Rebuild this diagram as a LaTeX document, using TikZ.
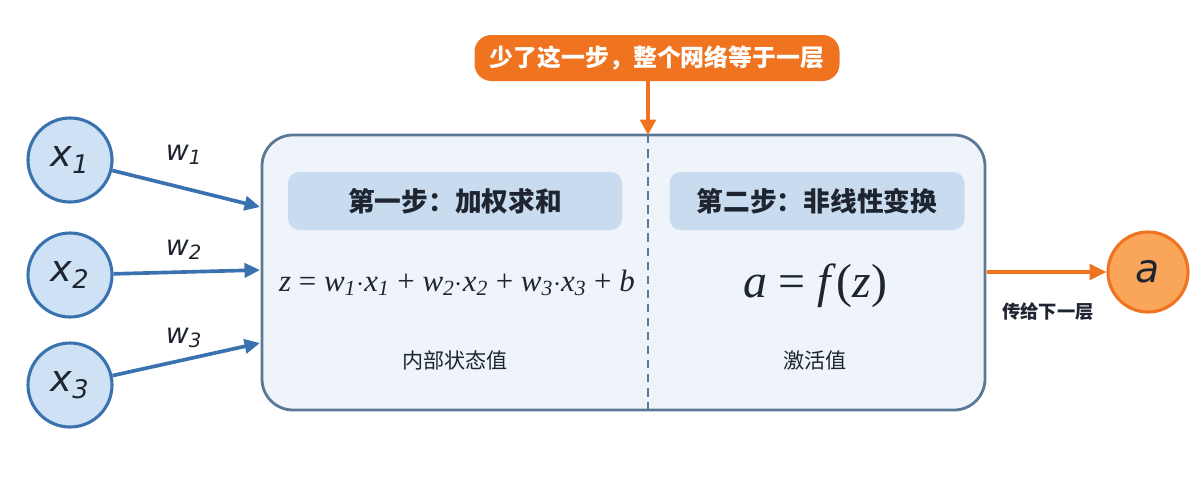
\documentclass[tikz,border=0pt]{standalone}
\usepackage{fontspec}
\setmainfont{Liberation Serif}
\newfontfamily\cjk{Noto Sans CJK SC}
\newfontfamily\sfx{DejaVu Sans}
\usetikzlibrary{arrows.meta}
\definecolor{cblue}{HTML}{3A72B0}
\definecolor{cfill}{HTML}{CFE2F5}
\definecolor{boxfill}{HTML}{EEF4FA}
\definecolor{boxline}{HTML}{5B7896}
\definecolor{hdr}{HTML}{C9DCEF}
\definecolor{corange}{HTML}{F0731F}
\definecolor{afill}{HTML}{F9A65A}
\definecolor{txt}{HTML}{1E2530}
\newcommand{\vx}[1]{\textit{#1}}
\begin{document}
\begin{tikzpicture}[x=0.025cm,y=-0.025cm,
  inp/.style={circle,draw=cblue,fill=cfill,line width=2.2pt,minimum size=84*0.025cm,inner sep=0pt,text=txt,font=\sfx\itshape\fontsize{26}{28}\selectfont},
  warr/.style={-{Triangle[length=11pt,width=10pt]},cblue,line width=2.6pt},
  wlab/.style={font=\sfx\itshape\fontsize{20}{22}\selectfont,text=txt},
  hdrbox/.style={fill=hdr,rounded corners=8pt,font=\cjk\bfseries\fontsize{19}{22}\selectfont,text=txt},
  captxt/.style={font=\cjk\fontsize{15}{18}\selectfont,text=txt}]
\useasboundingbox (0,0) rectangle (1200,500);
\node[inp] (x1) at (70,160) {x\textsubscript{1}};
\node[inp] (x2) at (70,275) {x\textsubscript{2}};
\node[inp] (x3) at (70,385) {x\textsubscript{3}};
\draw[boxline,fill=boxfill,line width=2pt,rounded corners=22pt] (262,135) rectangle (985,410);
\coordinate (t1) at (260,207);
\coordinate (t2) at (260,270);
\coordinate (t3) at (260,343);
\draw[warr] (x1) -- (t1);
\draw[warr] (x2) -- (t2);
\draw[warr] (x3) -- (t3);
\node[wlab] (w1) at (184,155) {w\textsubscript{1}};
\node[wlab] (w2) at (184,250) {w\textsubscript{2}};
\node[wlab] (w3) at (184,338) {w\textsubscript{3}};
\coordinate (dtop) at (648,135);
\coordinate (dbot) at (648,410);
\draw[boxline,line width=1.6pt,dash pattern=on 6pt off 4pt] (dtop) -- (dbot);
\node[hdrbox,minimum width=334*0.025cm,minimum height=58*0.025cm] (h1) at (455,201) {第一步：加权求和};
\node[hdrbox,minimum width=295*0.025cm,minimum height=58*0.025cm] (h2) at (817,201) {第二步：非线性变换};
\node[text=txt,font=\fontsize{22}{24}\selectfont] (zf) at (457,283) {\vx{z} = \vx{w}\textsubscript{\vx{1}}$\cdot$\vx{x}\textsubscript{\vx{1}} + \vx{w}\textsubscript{\vx{2}}$\cdot$\vx{x}\textsubscript{\vx{2}} + \vx{w}\textsubscript{\vx{3}}$\cdot$\vx{x}\textsubscript{\vx{3}} + \vx{b}};
\node[text=txt,font=\fontsize{34}{38}\selectfont] (af) at (815,286) {\vx{a} = \vx{f}(\vx{z})};
\node[captxt] (c1) at (455,360) {内部状态值};
\node[captxt] (c2) at (815,360) {激活值};
\node[fill=corange,rounded corners=12pt,text=white,font=\cjk\bfseries\fontsize{17}{20}\selectfont,minimum width=365*0.025cm,minimum height=46*0.025cm] (call) at (657,58) {少了这一步，整个网络等于一层};
\draw[-{Triangle[length=11pt,width=11pt]},corange,line width=2.6pt] (call.south -| dtop) -- (dtop);
\node[circle,draw=corange,fill=afill,line width=2.2pt,minimum size=80*0.025cm,inner sep=0pt,text=txt,font=\sfx\itshape\fontsize{28}{30}\selectfont] (a) at (1148,272) {a};
\coordinate (bo) at (987,272);
\draw[-{Triangle[length=12pt,width=11pt]},corange,line width=2.8pt] (bo) -- (a);
\node[text=txt,font=\cjk\bfseries\fontsize{13}{16}\selectfont] (pass) at (1048,312) {传给下一层};
\end{tikzpicture}
\end{document}
